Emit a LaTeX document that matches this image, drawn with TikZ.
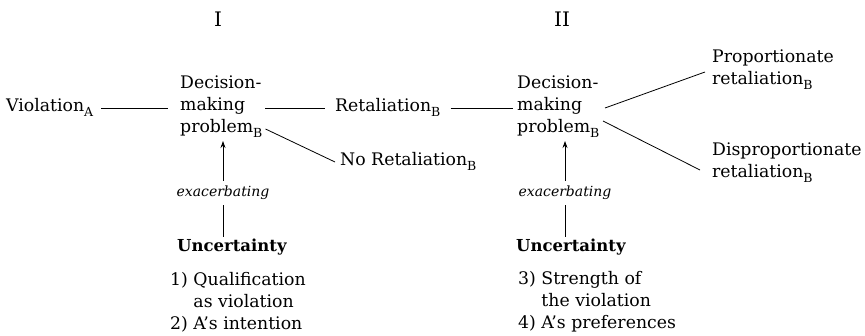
\documentclass[tikz,border=0pt]{standalone}
\usepackage{fontspec}
\setmainfont{DejaVu Serif}
\usetikzlibrary{arrows.meta}
\newcommand{\lsub}[1]{\raisebox{-0.55ex}{\fontsize{12.5}{12.5}\selectfont #1}}
\tikzset{
  lbl/.style={inner sep=0pt, anchor=west, align=left, font=\fontsize{17.3}{22}\selectfont},
  one/.style={lbl, text height=12pt, text depth=4pt},
  roman/.style={one, anchor=center, font=\fontsize{20}{22}\selectfont},
  conn/.style={line width=0.8pt},
  arr/.style={conn, -{Stealth[length=7pt,width=5pt]}}
}
\begin{document}
\begin{tikzpicture}[x=1pt,y=1pt]
\useasboundingbox (0,0) rectangle (865,335);
\node[roman] (I) at (218,312) {I};
\node[roman] (II) at (562,312) {II};
\node[one] (viol) at (6,227) {Violation\lsub{A}};
\node[lbl] (dm1) at (180,228) {Decision-\\making\\problem\lsub{B}};
\node[one] (ret) at (335,227) {Retaliation\lsub{B}};
\node[one] (noret) at (340,173) {No Retaliation\lsub{B}};
\node[lbl] (dm2) at (517,228) {Decision-\\making\\problem\lsub{B}};
\node[lbl] (prop) at (712,265) {Proportionate\\retaliation\lsub{B}};
\node[lbl] (disp) at (712,172) {Disproportionate\\retaliation\lsub{B}};
\node[one, anchor=center, font=\fontsize{14}{16}\selectfont\itshape] (ex1) at (223,142) {exacerbating};
\node[one, font=\fontsize{16.5}{18}\selectfont\bfseries] (un1) at (177,88) {Uncertainty};
\node[lbl] (li1) at (170,33) {1) Qualification\\\phantom{1) }as violation\\2) A's intention};
\node[one, anchor=center, font=\fontsize{14}{16}\selectfont\itshape] (ex2) at (565,142) {exacerbating};
\node[one, font=\fontsize{16.5}{18}\selectfont\bfseries] (un2) at (516,88) {Uncertainty};
\node[lbl] (li2) at (518,33) {3) Strength of\\\phantom{3) }the violation\\4) A's preferences};
\draw[conn] ([xshift=8pt]viol.east) -- ([xshift=-12pt]viol.east -| dm1.west);
\draw[conn] ([xshift=265pt]viol.east -| 0,0) -- ([xshift=-10pt]ret.west);
\draw[conn] ([xshift=10pt]ret.east) -- ([xshift=-4pt]ret.east -| dm2.west);
\draw[conn] (dm1.south east) ++(3,9) -- ([xshift=-5pt]noret.west);
\draw[conn] ([xshift=-107pt,yshift=-1pt]prop.west |- dm2.east) -- ([xshift=-7pt,yshift=-2pt]prop.west);
\draw[conn] ([xshift=-109pt,yshift=-14pt]disp.west |- dm2.east) -- ([xshift=-12pt,yshift=-7pt]disp.west);
\draw[arr] ([yshift=4pt]ex1.north) -- ([yshift=-3pt]ex1.north |- dm1.south);
\draw[conn] ([yshift=-4pt]ex1.south) -- ([yshift=2pt]ex1.south |- un1.north);
\draw[arr] ([yshift=4pt]ex2.north) -- ([yshift=-3pt]ex2.north |- dm2.south);
\draw[conn] ([yshift=-4pt]ex2.south) -- ([yshift=2pt]ex2.south |- un2.north);
\end{tikzpicture}
\end{document}
